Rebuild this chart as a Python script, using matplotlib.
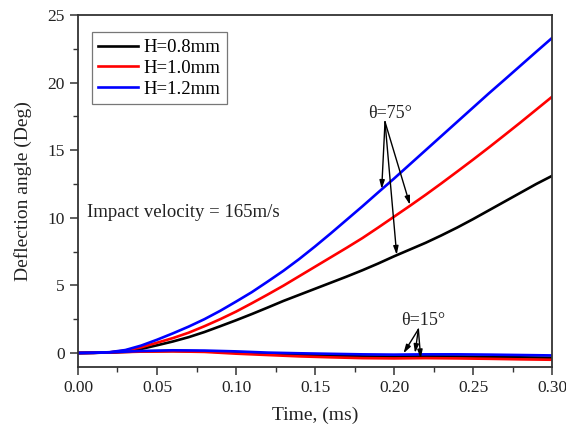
import matplotlib
matplotlib.use("Agg")
import matplotlib.pyplot as plt
from matplotlib.ticker import MultipleLocator, FormatStrFormatter

plt.rcParams['font.family'] = ['Liberation Serif', 'DejaVu Serif']

# time (ms)
t = [0.00, 0.01, 0.02, 0.03, 0.04, 0.05, 0.06, 0.07, 0.08, 0.09, 0.10,
     0.11, 0.12, 0.13, 0.14, 0.15, 0.16, 0.17, 0.18, 0.19, 0.20,
     0.21, 0.22, 0.23, 0.24, 0.25, 0.26, 0.27, 0.28, 0.29, 0.30]

# theta = 75 deg
h08_75 = [0, 0.01, 0.04, 0.12, 0.30, 0.57, 0.85, 1.17, 1.55, 1.98, 2.42,
          2.88, 3.36, 3.85, 4.30, 4.75, 5.20, 5.65, 6.12, 6.62, 7.15,
          7.65, 8.15, 8.70, 9.28, 9.90, 10.55, 11.2, 11.85, 12.5, 13.1]
h10_75 = [0, 0.01, 0.05, 0.18, 0.42, 0.76, 1.10, 1.50, 1.98, 2.50, 3.06,
          3.68, 4.32, 4.98, 5.68, 6.38, 7.08, 7.78, 8.50, 9.28, 10.08,
          10.88, 11.70, 12.55, 13.42, 14.30, 15.20, 16.12, 17.05, 18.0, 18.95]
h12_75 = [0, 0.01, 0.06, 0.22, 0.55, 0.98, 1.45, 1.95, 2.50, 3.12, 3.80,
          4.50, 5.28, 6.08, 6.95, 7.88, 8.85, 9.85, 10.85, 11.88, 12.90,
          13.95, 15.00, 16.05, 17.10, 18.15, 19.20, 20.22, 21.25, 22.28, 23.3]

# theta = 15 deg
t15 = [0.00, 0.02, 0.04, 0.06, 0.08, 0.10, 0.12, 0.14, 0.16, 0.18, 0.20,
       0.22, 0.24, 0.26, 0.28, 0.30]
h08_15 = [0, 0.04, 0.12, 0.15, 0.12, 0.03, -0.06, -0.13, -0.20, -0.25, -0.27,
          -0.25, -0.26, -0.28, -0.32, -0.35]
h10_15 = [0, 0.04, 0.10, 0.12, 0.08, -0.05, -0.15, -0.25, -0.32, -0.38, -0.40,
          -0.38, -0.40, -0.43, -0.47, -0.50]
h12_15 = [0, 0.05, 0.15, 0.20, 0.18, 0.12, 0.03, -0.02, -0.06, -0.10, -0.12,
          -0.10, -0.10, -0.12, -0.15, -0.18]

labels = ['H=0.8mm', 'H=1.0mm', 'H=1.2mm']
colors = ['#000000', '#ff0000', '#0000ff']

fig = plt.figure(figsize=(5.66, 4.25), dpi=100)
ax = fig.add_axes([0.1378, 0.1376, 0.8375, 0.8271])

lw = 1.9
for y75, y15, lab, c in zip([h08_75, h10_75, h12_75], [h08_15, h10_15, h12_15], labels, colors):
    ax.plot(t, y75, color=c, lw=lw, label=lab, solid_joinstyle='round')
    ax.plot(t15, y15, color=c, lw=lw, solid_joinstyle='round')

ax.set_xlim(0, 0.30)
ax.set_ylim(-1, 25)
ax.xaxis.set_major_locator(MultipleLocator(0.05))
ax.xaxis.set_minor_locator(MultipleLocator(0.025))
ax.yaxis.set_major_locator(MultipleLocator(5))
ax.yaxis.set_minor_locator(MultipleLocator(2.5))
ax.xaxis.set_major_formatter(FormatStrFormatter('%.2f'))
ax.tick_params(which='major', direction='out', length=6, width=1.1, labelsize=12.5, colors='#333333')
ax.tick_params(which='minor', direction='out', length=3.5, width=1.0, colors='#333333')
ax.tick_params(labelcolor='#222222')
for s in ax.spines.values():
    s.set_linewidth(1.3)
    s.set_color('#333333')

ax.set_xlabel('Time, (ms)', fontsize=14, color='#222222', labelpad=8)
ax.set_ylabel('Deflection angle (Deg)', fontsize=14, color='#222222', labelpad=11)

leg = ax.legend(loc='upper left', bbox_to_anchor=(0.009, 0.977), fontsize=13.5,
                frameon=True, fancybox=False, edgecolor='#555555',
                handlelength=2.1, handletextpad=0.3, borderpad=0.35, labelspacing=0.2)
leg.get_frame().set_linewidth(0.9)

ax.text(0.0057, 10.37, 'Impact velocity = 165m/s', fontsize=13.5, va='center', ha='left', color='#222222')

arrow_kw = dict(arrowstyle='-|>,head_length=0.5,head_width=0.15', color='black', lw=1.0,
                shrinkA=0, shrinkB=0)

# theta = 75 annotation
ax.text(0.1975, 17.75, 'θ=75°', fontsize=13, ha='center', va='center', color='#222222')
for xt, yt in [(0.1922, 12.13), (0.2101, 10.96), (0.2017, 7.26)]:
    ax.annotate('', xy=(xt, yt), xytext=(0.1943, 17.1), arrowprops=arrow_kw)

# theta = 15 annotation
ax.text(0.2186, 2.44, 'θ=15°', fontsize=13, ha='center', va='center', color='#222222')
for xt, yt in [(0.206, -0.02), (0.2133, 0.0), (0.2169, -0.4)]:
    ax.annotate('', xy=(xt, yt), xytext=(0.2154, 1.75), arrowprops=arrow_kw)

fig.savefig('out.png', dpi=100)
